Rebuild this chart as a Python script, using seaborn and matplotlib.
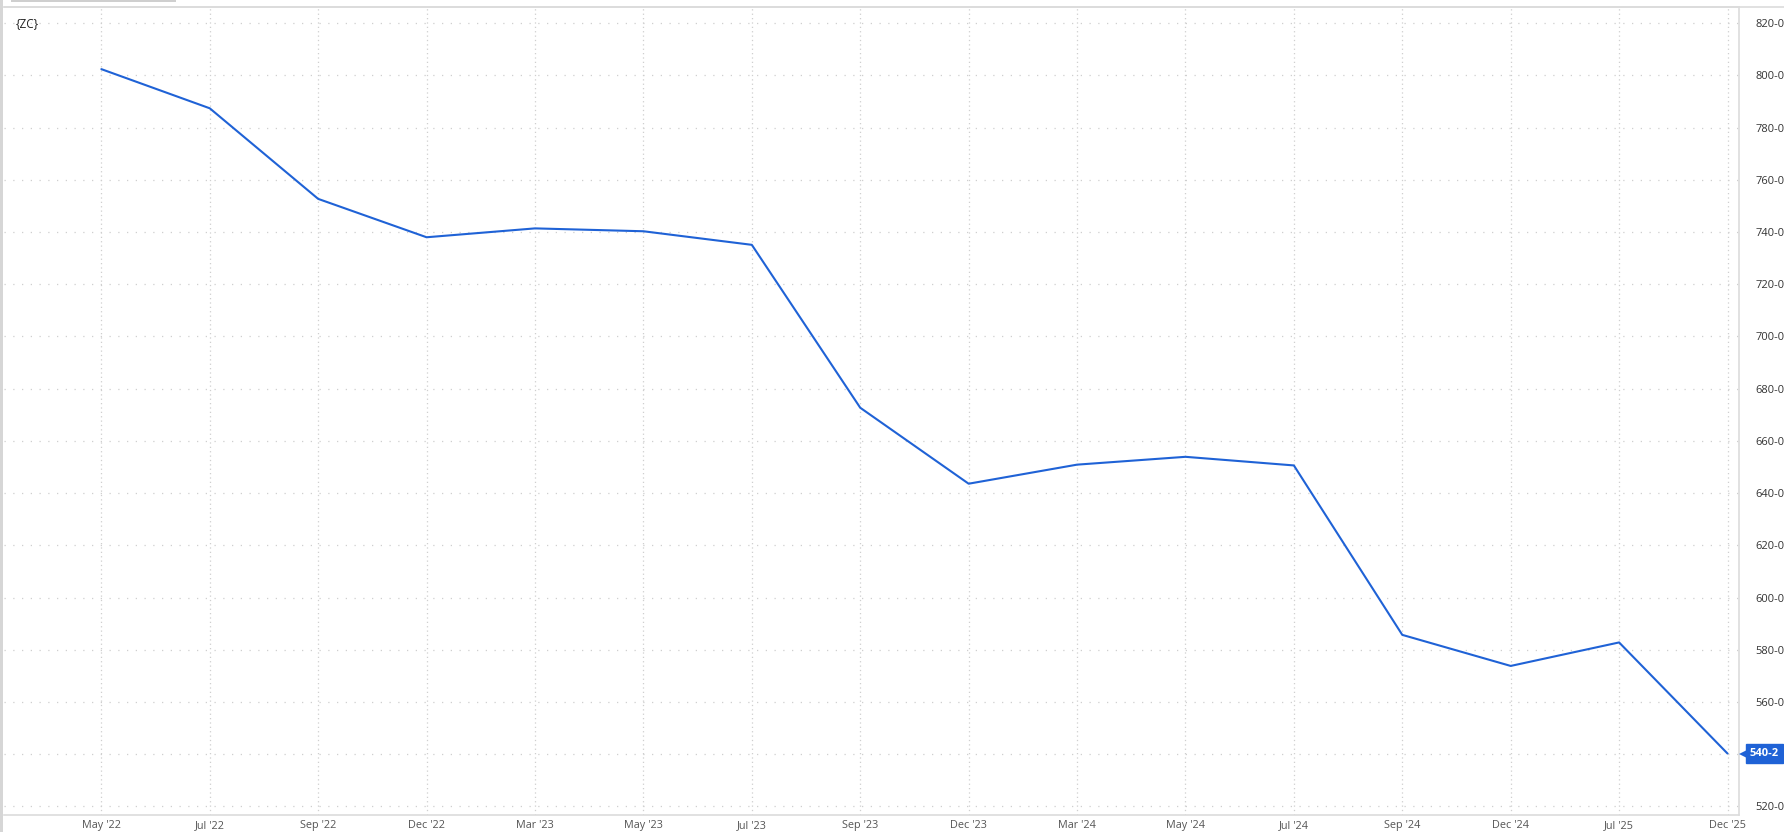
import matplotlib
matplotlib.use("Agg")
import matplotlib.pyplot as plt
import matplotlib.transforms as mtransforms
import pandas as pd
import seaborn as sns

contracts = ["May '22", "Jul '22", "Sep '22", "Dec '22", "Mar '23", "May '23",
             "Jul '23", "Sep '23", "Dec '23", "Mar '24", "May '24", "Jul '24",
             "Sep '24", "Dec '24", "Jul '25", "Dec '25"]
prices = [802.4, 787.4, 752.7, 738.0, 741.4, 740.3, 735.1, 672.7,
          643.6, 650.9, 653.9, 650.6, 585.7, 573.8, 582.8, 540.25]
y_ticks = list(range(520, 821, 20))
symbol = "{ZC}"
last_label = "540-2"

LINE = "#1f62d6"
GRID = "#cfcfcf"
EDGE = "#dcdcdc"


def main():
    sns.set_theme(style="white")
    plt.rcParams["font.family"] = ["Open Sans", "DejaVu Sans"]

    df = pd.DataFrame({"contract": contracts, "price": prices})

    fig = plt.figure(figsize=(17.84, 8.32), dpi=100)
    W, H = 1784, 832
    ax = fig.add_axes([4 / W, 1 - 815 / H, (1739 - 4) / W, (815 - 7) / H])

    sns.lineplot(data=df, x="contract", y="price", sort=False, ax=ax,
                 color=LINE, linewidth=1.5, zorder=3)

    ax.set_xlim(-0.898, 15.106)
    ax.set_ylim(516.7, 826.2)
    ax.set_xlabel("")
    ax.set_ylabel("")

    # the last-price badge covers the 540 label, so leave it blank
    last_tick = int(prices[-1] // 20 * 20)
    ax.set_yticks(y_ticks)
    ax.set_yticklabels(["" if v == last_tick else f"{v}-0" for v in y_ticks])
    ax.yaxis.tick_right()
    ax.tick_params(axis="y", length=0, pad=12, labelsize=8, labelcolor="#333333")
    ax.tick_params(axis="x", length=3, width=0.8, color=EDGE, pad=0.5,
                   labelsize=7.8, labelcolor="#555555")

    for v in y_ticks:
        ax.axhline(v, color=GRID, linewidth=0.9, linestyle=(0, (1, 6)), zorder=1)
    for i in range(len(contracts)):
        ax.axvline(i, color=GRID, linewidth=0.9, linestyle=(0, (1, 2.5)), zorder=1)

    for side in ["left", "right", "top", "bottom"]:
        ax.spines[side].set_color(EDGE)
        ax.spines[side].set_linewidth(1.2)
    ax.spines["left"].set_visible(False)

    ax.text(12 / 1735, 1 - 17 / 808, symbol, transform=ax.transAxes,
            ha="left", va="center", fontsize=8.5, color="#222222")

    # last price badge on the right axis
    blend = mtransforms.blended_transform_factory(ax.transAxes, ax.transData)
    tri = mtransforms.offset_copy(blend, fig=fig, x=8, y=0, units="dots")
    ax.plot([1.0], [prices[-1]], marker="<", markersize=11.5, color=LINE,
            markeredgewidth=0, transform=tri, clip_on=False, zorder=5)
    txt = mtransforms.offset_copy(blend, fig=fig, x=11, y=0, units="dots")
    ax.text(1.0, prices[-1], last_label, transform=txt, ha="left", va="center",
            fontsize=8, fontweight="bold", color="white", zorder=6,
            bbox=dict(boxstyle="square,pad=0.35", fc=LINE, ec=LINE))

    # page chrome around the chart
    fig.add_artist(plt.Line2D([4 / W, 1], [1 - 7 / H, 1 - 7 / H],
                              color=EDGE, linewidth=1.2))
    fig.add_artist(plt.Rectangle((0, 0), 3 / W, 1, color="#d6d6d6", linewidth=0))
    fig.add_artist(plt.Rectangle((11 / W, 1 - 2 / H), 165 / W, 2 / H,
                                 color="#cfcfcf", linewidth=0))

    fig.savefig("out.png", dpi=100)
    plt.close(fig)


if __name__ == "__main__":
    main()
